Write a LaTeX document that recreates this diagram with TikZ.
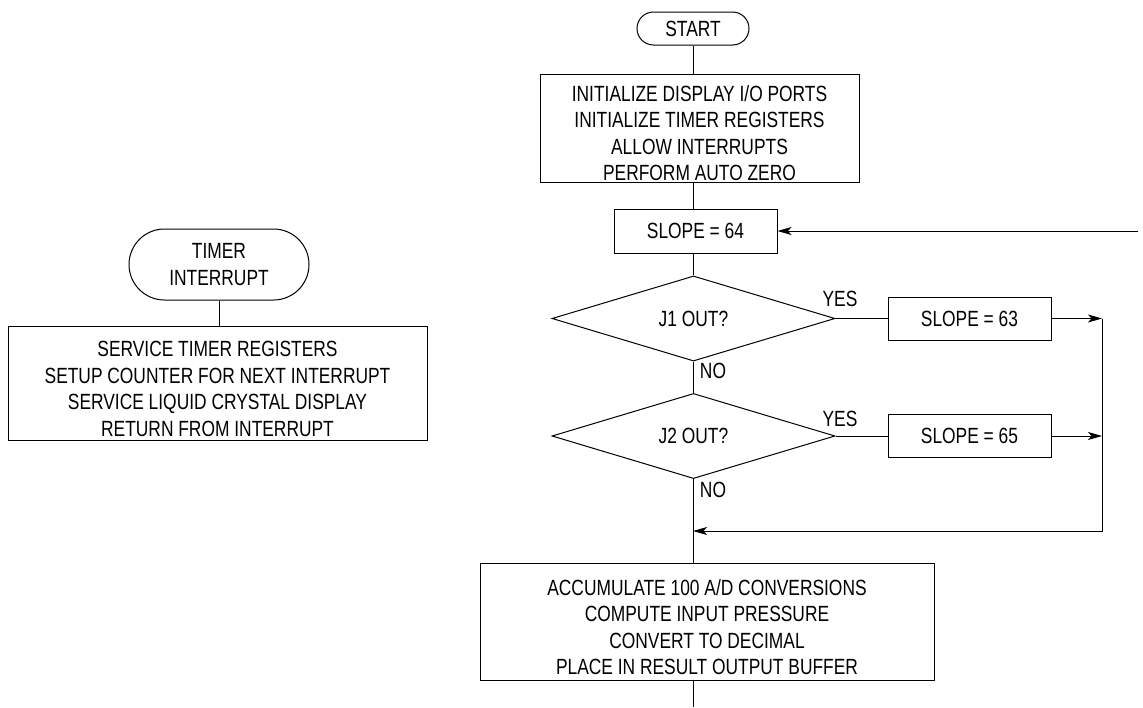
\documentclass[tikz,border=0pt]{standalone}
\usepackage{fontspec}
\setmainfont{Liberation Sans}[FakeStretch=0.79]
\usetikzlibrary{shapes.geometric,arrows.meta}
\newcommand{\toppad}[1]{\rule{0pt}{#1}}
\begin{document}
\begin{tikzpicture}[x=1pt,y=-1pt,
  every node/.style={font=\fontsize{22}{26.5}\selectfont, inner sep=0pt},
  proc/.style={draw, line width=1pt, rectangle, align=center},
  term/.style={draw, line width=1pt, rectangle, align=center, rounded corners=#1},
  dec/.style={draw, line width=1pt, diamond, minimum width=283pt, minimum height=77pt},
  conn/.style={line width=1pt},
  arr/.style={line width=1pt, -{Stealth[length=14pt,width=8pt,inset=3.5pt]}}
]
\useasboundingbox (0,0) rectangle (1143,707);

% main flow
\node[term=16.5pt, minimum width=112pt, minimum height=33pt] (start) at (693,28.5) {START};
\node[proc, minimum width=319pt, minimum height=108pt] (init) at (699.5,128)
  {\toppad{26pt}INITIALIZE DISPLAY I/O PORTS\\INITIALIZE TIMER REGISTERS\\ALLOW INTERRUPTS\\PERFORM AUTO ZERO};
\node[proc, minimum width=163pt, minimum height=44pt] (s64) at (695.5,231) {SLOPE = 64};
\node[dec] (j1) at (693.5,318.5) {J1 OUT?};
\node[proc, minimum width=163pt, minimum height=43pt] (s63) at (969.5,318.5) {SLOPE = 63};
\node[dec] (j2) at (693.5,436) {J2 OUT?};
\node[proc, minimum width=163pt, minimum height=43pt] (s65) at (969.5,436) {SLOPE = 65};
\node[proc, minimum width=454pt, minimum height=117pt] (acc) at (707,621.5)
  {\toppad{27pt}ACCUMULATE 100 A/D CONVERSIONS\\COMPUTE INPUT PRESSURE\\CONVERT TO DECIMAL\\PLACE IN RESULT OUTPUT BUFFER};

\node (yes1) at (840,299) {YES};
\node (no1) at (713,370.5) {NO};
\node (yes2) at (840,419) {YES};
\node (no2) at (713,490) {NO};

% timer interrupt
\node[term=35.5pt, minimum width=180pt, minimum height=71pt] (timer) at (219,264.5) {TIMER\\INTERRUPT};
\node[proc, minimum width=419pt, minimum height=114pt] (tbox) at (217.5,383)
  {\toppad{27pt}SERVICE TIMER REGISTERS\\SETUP COUNTER FOR NEXT INTERRUPT\\SERVICE LIQUID CRYSTAL DISPLAY\\RETURN FROM INTERRUPT};

% coordinates
\coordinate (spine) at (693,0);
\coordinate (rail) at (1102,0);
\coordinate (merge) at (693,531);
\coordinate (railbot) at (1102,531);
\coordinate (feed) at (1138,231);
\coordinate (exit) at (693,707);

% connectors
\draw[conn] (start.south) -- (start.south |- init.north);
\draw[conn] (init.south -| spine) -- (s64.north -| spine);
\draw[conn] (s64.south -| spine) -- (j1.north -| spine);
\draw[conn] (j1.south -| spine) -- (j2.north -| spine);
\draw[conn] (j2.south -| spine) -- (acc.north -| spine);
\draw[conn] (acc.south -| spine) -- (exit);
\draw[conn] (j1.east) -- (s63.west);
\draw[conn] (j2.east) -- (s65.west);
\draw[arr] (s63.east) -- (s63.east -| rail);
\draw[arr] (s65.east) -- (s65.east -| rail);
\draw[arr] (s63.east -| rail) -- (railbot) -- (merge);
\draw[arr] (feed) -- (s64.east);
\draw[conn] (timer.south) -- (timer.south |- tbox.north);
\end{tikzpicture}
\end{document}
